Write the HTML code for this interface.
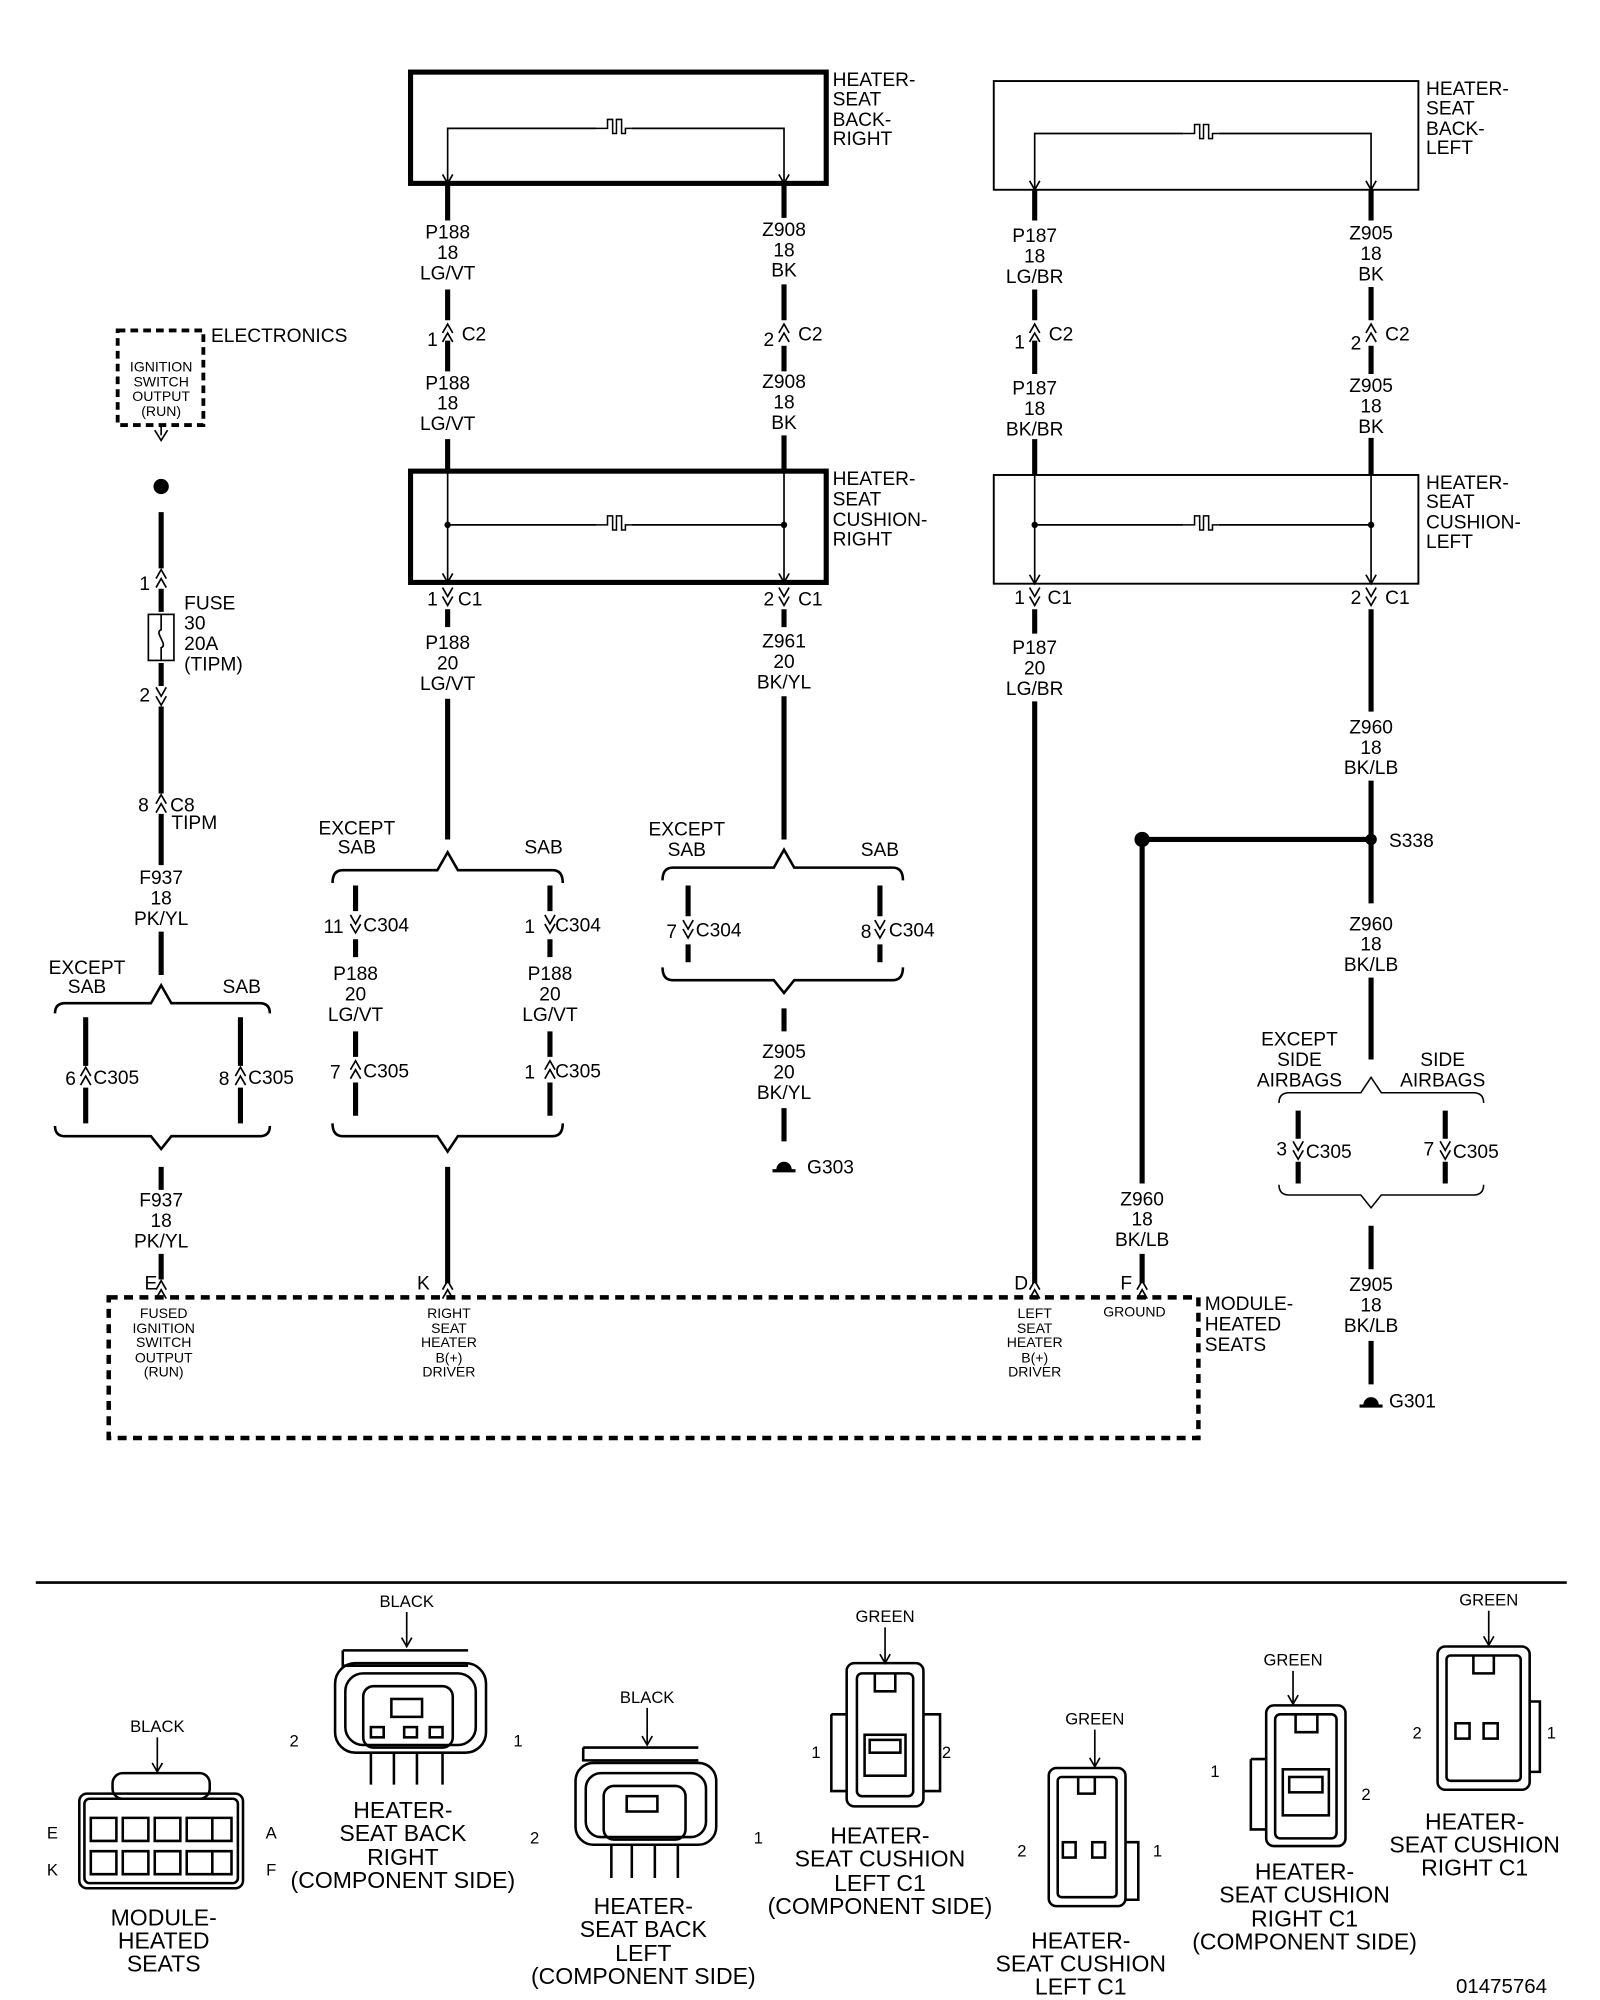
<!DOCTYPE html>
<html><head><meta charset="utf-8"><style>
html,body{margin:0;padding:0;background:#fff;}
svg{display:block}
text{font-family:"Liberation Sans",Arial,sans-serif;fill:#000}
</style></head><body>
<svg width="1600" height="2000" viewBox="0 0 1251 1563" xmlns="http://www.w3.org/2000/svg">
<defs>
<g id="cu"><path d="M-4,0 L0,-7 L4,0 M-4,7 L0,0 L4,7" fill="none" stroke="#000" stroke-width="1.3"/></g>
<g id="cd"><path d="M-4,0 L0,7 L4,0 M-4,-7 L0,0 L4,-7" fill="none" stroke="#000" stroke-width="1.3"/></g>
<g id="ht"><path d="M-14,0 H-5 V-7 H-1 V4 H2 V-7 H6 V4 H9 V0 H14" fill="none" stroke="#000" stroke-width="1.2"/></g>
<g id="gnd"><path d="M-9,3 H9" stroke="#000" stroke-width="2.5"/><path d="M-6,2 A6,6 0 0 1 6,2 Z" fill="#000"/></g>
</defs>
<rect width="1251" height="1563" fill="#fff"/>

<rect x="321" y="56" width="325" height="87" fill="none" stroke="#000" stroke-width="4"/>
<rect x="321" y="368" width="325" height="87" fill="none" stroke="#000" stroke-width="4"/>
<rect x="777" y="63" width="332" height="85" fill="none" stroke="#000" stroke-width="1.5"/>
<rect x="777" y="371" width="332" height="85" fill="none" stroke="#000" stroke-width="1.5"/>

<g fill="none" stroke="#000" stroke-width="1.3">
<path d="M350,143 V100 H466 M494,100 H613 V143"/>
<path d="M346,136 L350,143 L354,136 M609,136 L613,143 L617,136"/>
<path d="M350,368 V455 M613,368 V455 M350,410 H466 M494,410 H613"/>
<path d="M346,448 L350,455 L354,448 M609,448 L613,455 L617,448"/>
<path d="M809,148 V104 H925 M953,104 H1072 V148"/>
<path d="M805,141 L809,148 L813,141 M1068,141 L1072,148 L1076,141"/>
<path d="M809,371 V456 M1072,371 V456 M809,410 H925 M953,410 H1072"/>
<path d="M805,449 L809,456 L813,449 M1068,449 L1072,456 L1076,449"/>
</g>
<use href="#ht" x="480" y="100"/><use href="#ht" x="480" y="410"/>
<use href="#ht" x="939" y="104"/><use href="#ht" x="939" y="410"/>
<circle cx="350" cy="410" r="2.5"/><circle cx="613" cy="410" r="2.5"/>
<circle cx="809" cy="410" r="2.5"/><circle cx="1072" cy="410" r="2.5"/>

<g stroke="#000" stroke-width="4" fill="none">
<path d="M350,143V172 M350,226V250 M350,266V290 M350,343V368 M350,476V490 M350,546V656"/>
<path d="M613,143V170 M613,222V250 M613,270V290 M613,340V368 M613,476V490 M613,544V656"/>
<path d="M809,148V172 M809,226V250 M809,266V292 M809,343V371 M809,476V495 M809,548V1003"/>
<path d="M1072,148V172 M1072,224V250 M1072,270V292 M1072,342V371 M1072,476V556 M1072,610V706 M1072,764V828"/>
<path d="M893,656H1072 M893,656V925 M893,980V1003"/>
<path d="M278,692V712 M278,734V748 M278,806V826 M278,846V872"/>
<path d="M430,692V712 M430,734V748 M430,806V826 M430,846V872"/>
<path d="M350,912V1003"/>
<path d="M538,692V716 M538,738V752 M688,692V716 M688,738V752"/>
<path d="M613,788V806 M613,866V892"/>
<path d="M126,400V444 M126,460V478 M126,518V536 M126,552V620 M126,636V676 M126,728V762"/>
<path d="M67,795V833 M67,850V878 M188,795V833 M188,850V878"/>
<path d="M126,912V930 M126,980V1000"/>
<path d="M1015,868V890 M1015,908V925 M1130,868V890 M1130,908V925"/>
<path d="M1072,958V992 M1072,1048V1082"/>
</g>
<circle cx="893" cy="656" r="6"/><circle cx="1072" cy="656" r="4.5"/>
<circle cx="126" cy="380" r="6"/>

<use href="#cu" x="350" y="260"/><use href="#cu" x="613" y="260"/>
<use href="#cu" x="809" y="260"/><use href="#cu" x="1072" y="260"/>
<use href="#cd" x="350" y="466"/><use href="#cd" x="613" y="466"/>
<use href="#cd" x="809" y="466"/><use href="#cd" x="1072" y="466"/>
<use href="#cd" x="278" y="722"/><use href="#cd" x="430" y="722"/>
<use href="#cu" x="278" y="836"/><use href="#cu" x="430" y="836"/>
<use href="#cd" x="538" y="726"/><use href="#cd" x="688" y="726"/>
<use href="#cu" x="126" y="452"/><use href="#cd" x="126" y="544"/>
<use href="#cu" x="126" y="628"/>
<use href="#cu" x="67" y="841"/><use href="#cu" x="188" y="841"/>
<use href="#cd" x="1015" y="899"/><use href="#cd" x="1130" y="899"/>
<use href="#cu" x="126" y="1008"/><use href="#cu" x="350" y="1008"/>
<use href="#cu" x="809" y="1008"/><use href="#cu" x="893" y="1008"/>
<path d="M121,336 L126,344 L131,336" fill="none" stroke="#000" stroke-width="1.3"/>
<path d="M126,332V340" stroke="#000" stroke-width="1.3"/>
<use href="#gnd" x="613" y="912"/><use href="#gnd" x="1072" y="1096"/>

<g fill="none" stroke="#000" stroke-width="2">
<path d="M260,690 Q260,680 268,680 H342 L350,666 L358,680 H432 Q440,680 440,690"/>
<path d="M260,878 Q260,888 268,888 H342 L350,900 L358,888 H432 Q440,888 440,878"/>
<path d="M518,688 Q518,678 526,678 H605 L613,664 L621,678 H698 Q706,678 706,688"/>
<path d="M518,756 Q518,766 526,766 H605 L613,776 L621,766 H698 Q706,766 706,756"/>
<path d="M43,792 Q43,784 51,784 H118 L126,770 L134,784 H203 Q211,784 211,792"/>
<path d="M43,880 Q43,888 51,888 H118 L126,898 L134,888 H203 Q211,888 211,880"/>
</g>
<g fill="none" stroke="#000" stroke-width="1.2">
<path d="M1000,862 Q1000,854 1008,854 H1064 L1072,842 L1080,854 H1152 Q1160,854 1160,862"/>
<path d="M1000,926 Q1000,934 1008,934 H1064 L1072,944 L1080,934 H1152 Q1160,934 1160,926"/>
</g>

<rect x="116" y="480" width="20" height="36" fill="#fff" stroke="#000" stroke-width="1.3"/>
<path d="M126,480 V492 C120,494 132,504 126,506 V516" fill="none" stroke="#000" stroke-width="1.3"/>

<rect x="92" y="258" width="67" height="74" fill="none" stroke="#000" stroke-width="3" stroke-dasharray="6,4"/>
<rect x="85" y="1014" width="852" height="110" fill="none" stroke="#000" stroke-width="3.5" stroke-dasharray="7,5"/>

<g font-size="15" text-anchor="middle">
<text x="350" y="186">P188</text><text x="350" y="202">18</text><text x="350" y="218">LG/VT</text>
<text x="350" y="304">P188</text><text x="350" y="320">18</text><text x="350" y="336">LG/VT</text>
<text x="350" y="507">P188</text><text x="350" y="523">20</text><text x="350" y="539">LG/VT</text>
<text x="613" y="184">Z908</text><text x="613" y="200">18</text><text x="613" y="216">BK</text>
<text x="613" y="303">Z908</text><text x="613" y="319">18</text><text x="613" y="335">BK</text>
<text x="613" y="506">Z961</text><text x="613" y="522">20</text><text x="613" y="538">BK/YL</text>
<text x="809" y="189">P187</text><text x="809" y="205">18</text><text x="809" y="221">LG/BR</text>
<text x="809" y="308">P187</text><text x="809" y="324">18</text><text x="809" y="340">BK/BR</text>
<text x="809" y="511">P187</text><text x="809" y="527">20</text><text x="809" y="543">LG/BR</text>
<text x="1072" y="187">Z905</text><text x="1072" y="203">18</text><text x="1072" y="219">BK</text>
<text x="1072" y="306">Z905</text><text x="1072" y="322">18</text><text x="1072" y="338">BK</text>
<text x="1072" y="573">Z960</text><text x="1072" y="589">18</text><text x="1072" y="605">BK/LB</text>
<text x="1072" y="727">Z960</text><text x="1072" y="743">18</text><text x="1072" y="759">BK/LB</text>
<text x="1072" y="1009">Z905</text><text x="1072" y="1025">18</text><text x="1072" y="1041">BK/LB</text>
<text x="893" y="942">Z960</text><text x="893" y="958">18</text><text x="893" y="974">BK/LB</text>
<text x="278" y="766">P188</text><text x="278" y="782">20</text><text x="278" y="798">LG/VT</text>
<text x="430" y="766">P188</text><text x="430" y="782">20</text><text x="430" y="798">LG/VT</text>
<text x="613" y="827">Z905</text><text x="613" y="843">20</text><text x="613" y="859">BK/YL</text>
<text x="126" y="691">F937</text><text x="126" y="707">18</text><text x="126" y="723">PK/YL</text>
<text x="126" y="943">F937</text><text x="126" y="959">18</text><text x="126" y="975">PK/YL</text>
<text x="279" y="652">EXCEPT</text><text x="279" y="667">SAB</text><text x="425" y="667">SAB</text>
<text x="537" y="653">EXCEPT</text><text x="537" y="669">SAB</text><text x="688" y="669">SAB</text>
<text x="68" y="761">EXCEPT</text><text x="68" y="776">SAB</text><text x="189" y="776">SAB</text>
<text x="1016" y="817">EXCEPT</text><text x="1016" y="833">SIDE</text><text x="1016" y="849">AIRBAGS</text>
<text x="1128" y="833">SIDE</text><text x="1128" y="849">AIRBAGS</text>
</g>
<g font-size="15">
<text x="334" y="270">1</text><text x="361" y="266">C2</text>
<text x="597" y="270">2</text><text x="624" y="266">C2</text>
<text x="793" y="272">1</text><text x="820" y="266">C2</text>
<text x="1056" y="273">2</text><text x="1083" y="266">C2</text>
<text x="334" y="473">1</text><text x="358" y="473">C1</text>
<text x="597" y="473">2</text><text x="624" y="473">C1</text>
<text x="793" y="472">1</text><text x="819" y="472">C1</text>
<text x="1056" y="472">2</text><text x="1083" y="472">C1</text>
<text x="253" y="729">11</text><text x="284" y="728">C304</text>
<text x="410" y="729">1</text><text x="434" y="728">C304</text>
<text x="521" y="733">7</text><text x="544" y="732">C304</text>
<text x="673" y="733">8</text><text x="695" y="732">C304</text>
<text x="258" y="843">7</text><text x="284" y="842">C305</text>
<text x="410" y="843">1</text><text x="434" y="842">C305</text>
<text x="51" y="848">6</text><text x="73" y="847">C305</text>
<text x="171" y="848">8</text><text x="194" y="847">C305</text>
<text x="998" y="903">3</text><text x="1021" y="905">C305</text>
<text x="1113" y="903">7</text><text x="1136" y="905">C305</text>
<text x="109" y="461">1</text><text x="109" y="548">2</text>
<text x="108" y="634">8</text><text x="133" y="634">C8</text><text x="134" y="648">TIPM</text>
<text x="144" y="476">FUSE</text><text x="144" y="492">30</text><text x="144" y="508">20A</text><text x="144" y="524">(TIPM)</text>
<text x="165" y="267">ELECTRONICS</text>
<text x="1086" y="662">S338</text>
<text x="631" y="917">G303</text><text x="1086" y="1100">G301</text>
<text x="113" y="1008">E</text><text x="326" y="1008">K</text><text x="793" y="1008">D</text><text x="876" y="1008">F</text>
<text x="942" y="1024">MODULE-</text><text x="942" y="1040">HEATED</text><text x="942" y="1056">SEATS</text>
<text x="651" y="67">HEATER-</text><text x="651" y="82">SEAT</text><text x="651" y="98">BACK-</text><text x="651" y="113">RIGHT</text>
<text x="1115" y="74">HEATER-</text><text x="1115" y="89">SEAT</text><text x="1115" y="105">BACK-</text><text x="1115" y="120">LEFT</text>
<text x="651" y="379">HEATER-</text><text x="651" y="395">SEAT</text><text x="651" y="411">CUSHION-</text><text x="651" y="426">RIGHT</text>
<text x="1115" y="382">HEATER-</text><text x="1115" y="397">SEAT</text><text x="1115" y="413">CUSHION-</text><text x="1115" y="428">LEFT</text>
</g>
<g font-size="11" text-anchor="middle">
<text x="126" y="290">IGNITION</text><text x="126" y="302">SWITCH</text><text x="126" y="313">OUTPUT</text><text x="126" y="325">(RUN)</text>
<text x="128" y="1030">FUSED</text><text x="128" y="1042">IGNITION</text><text x="128" y="1053">SWITCH</text><text x="128" y="1065">OUTPUT</text><text x="128" y="1076">(RUN)</text>
<text x="351" y="1030">RIGHT</text><text x="351" y="1042">SEAT</text><text x="351" y="1053">HEATER</text><text x="351" y="1065">B(+)</text><text x="351" y="1076">DRIVER</text>
<text x="809" y="1030">LEFT</text><text x="809" y="1042">SEAT</text><text x="809" y="1053">HEATER</text><text x="809" y="1065">B(+)</text><text x="809" y="1076">DRIVER</text>
<text x="887" y="1029">GROUND</text>
</g>

<path d="M28,1237 H1225" stroke="#000" stroke-width="2"/>
<g fill="none" stroke="#000" stroke-width="2">
<rect x="88" y="1386" width="76" height="20" rx="8"/>
<rect x="62" y="1402" width="128" height="74" rx="6"/>
<rect x="66" y="1406" width="120" height="66" rx="4"/>
<path d="M71,1421h20v18h-20z M96,1421h20v18h-20z M121,1421h20v18h-20z M146,1421h20v18h-20z M166,1421h15v18h-15z"/>
<path d="M71,1447h20v18h-20z M96,1447h20v18h-20z M121,1447h20v18h-20z M146,1447h20v18h-20z M166,1447h15v18h-15z"/>
<path d="M268,1290 H366 M268,1290 V1302 H366"/>
<rect x="262" y="1300" width="118" height="70" rx="16"/>
<rect x="270" y="1308" width="102" height="56" rx="14"/>
<rect x="284" y="1318" width="70" height="48" rx="8"/>
<path d="M290,1370 V1395 M308,1370 V1395 M326,1370 V1395 M346,1370 V1395"/>
<rect x="306" y="1328" width="24" height="14"/><rect x="290" y="1350" width="10" height="8"/><rect x="316" y="1350" width="10" height="8"/><rect x="336" y="1350" width="10" height="8"/>
<path d="M456,1366 H546 M456,1366 V1376 H546"/>
<rect x="450" y="1378" width="110" height="64" rx="14"/>
<rect x="458" y="1386" width="94" height="50" rx="12"/>
<rect x="472" y="1396" width="64" height="42" rx="8"/>
<path d="M478,1442 V1468 M494,1442 V1468 M512,1442 V1468 M530,1442 V1468"/>
<rect x="490" y="1404" width="24" height="12"/>
<rect x="662" y="1300" width="60" height="112" rx="6"/>
<path d="M650,1340 H662 M650,1340 V1400 H662 M722,1340 H735 V1400 H722"/>
<rect x="670" y="1308" width="44" height="96" rx="4"/>
<rect x="676" y="1356" width="32" height="32"/>
<rect x="680" y="1360" width="24" height="10"/>
<path d="M684,1308 V1322 H700 V1308"/>
<rect x="820" y="1382" width="60" height="108" rx="6"/>
<rect x="827" y="1389" width="46" height="94" rx="3"/>
<path d="M880,1440 H890 V1485 H880"/>
<path d="M843,1389 V1402 H856 V1389"/>
<rect x="831" y="1440" width="10" height="12"/><rect x="854" y="1440" width="10" height="12"/>
<rect x="990" y="1333" width="62" height="110" rx="6"/>
<path d="M978,1375 H990 M978,1375 V1430 H990"/>
<rect x="997" y="1340" width="48" height="97" rx="4"/>
<rect x="1003" y="1383" width="36" height="36"/>
<rect x="1008" y="1389" width="26" height="12"/>
<path d="M1013,1340 V1354 H1030 V1340"/>
<rect x="1124" y="1287" width="72" height="112" rx="6"/>
<rect x="1131" y="1294" width="58" height="98" rx="3"/>
<path d="M1196,1330 H1204 V1385 H1196"/>
<path d="M1152,1294 V1308 H1168 V1294"/>
<rect x="1138" y="1347" width="11" height="12"/><rect x="1160" y="1347" width="11" height="12"/>
</g>
<g stroke="#000" stroke-width="1.3" fill="none">
<path d="M123,1358V1385 M119,1378L123,1385L127,1378"/>
<path d="M318,1260V1287 M314,1280L318,1287L322,1280"/>
<path d="M506,1335V1364 M502,1357L506,1364L510,1357"/>
<path d="M692,1272V1300 M688,1293L692,1300L696,1293"/>
<path d="M856,1352V1381 M852,1374L856,1381L860,1374"/>
<path d="M1011,1306V1332 M1007,1325L1011,1332L1015,1325"/>
<path d="M1164,1259V1286 M1160,1279L1164,1286L1168,1279"/>
</g>
<g font-size="13" text-anchor="middle">
<text x="123" y="1354">BLACK</text><text x="318" y="1256">BLACK</text><text x="506" y="1331">BLACK</text>
<text x="692" y="1268">GREEN</text><text x="856" y="1348">GREEN</text><text x="1011" y="1302">GREEN</text><text x="1164" y="1255">GREEN</text>
<text x="41" y="1437">E</text><text x="41" y="1466">K</text><text x="212" y="1437">A</text><text x="212" y="1466">F</text>
<text x="230" y="1365">2</text><text x="405" y="1365">1</text>
<text x="418" y="1441">2</text><text x="593" y="1441">1</text>
<text x="638" y="1374">1</text><text x="740" y="1374">2</text>
<text x="799" y="1451">2</text><text x="905" y="1451">1</text>
<text x="950" y="1389">1</text><text x="1068" y="1407">2</text>
<text x="1108" y="1359">2</text><text x="1213" y="1359">1</text>
</g>
<g font-size="18" text-anchor="middle">
<text x="128" y="1505">MODULE-</text><text x="128" y="1523">HEATED</text><text x="128" y="1541">SEATS</text>
<text x="315" y="1421">HEATER-</text><text x="315" y="1439">SEAT BACK</text><text x="315" y="1458">RIGHT</text><text x="315" y="1476">(COMPONENT SIDE)</text>
<text x="503" y="1496">HEATER-</text><text x="503" y="1514">SEAT BACK</text><text x="503" y="1533">LEFT</text><text x="503" y="1551">(COMPONENT SIDE)</text>
<text x="688" y="1441">HEATER-</text><text x="688" y="1459">SEAT CUSHION</text><text x="688" y="1478">LEFT C1</text><text x="688" y="1496">(COMPONENT SIDE)</text>
<text x="845" y="1523">HEATER-</text><text x="845" y="1541">SEAT CUSHION</text><text x="845" y="1559">LEFT C1</text>
<text x="1020" y="1469">HEATER-</text><text x="1020" y="1487">SEAT CUSHION</text><text x="1020" y="1506">RIGHT C1</text><text x="1020" y="1524">(COMPONENT SIDE)</text>
<text x="1153" y="1430">HEATER-</text><text x="1153" y="1448">SEAT CUSHION</text><text x="1153" y="1466">RIGHT C1</text>
</g>
<text x="1174" y="1558" font-size="16" text-anchor="middle">01475764</text>
</svg>
</body></html>
